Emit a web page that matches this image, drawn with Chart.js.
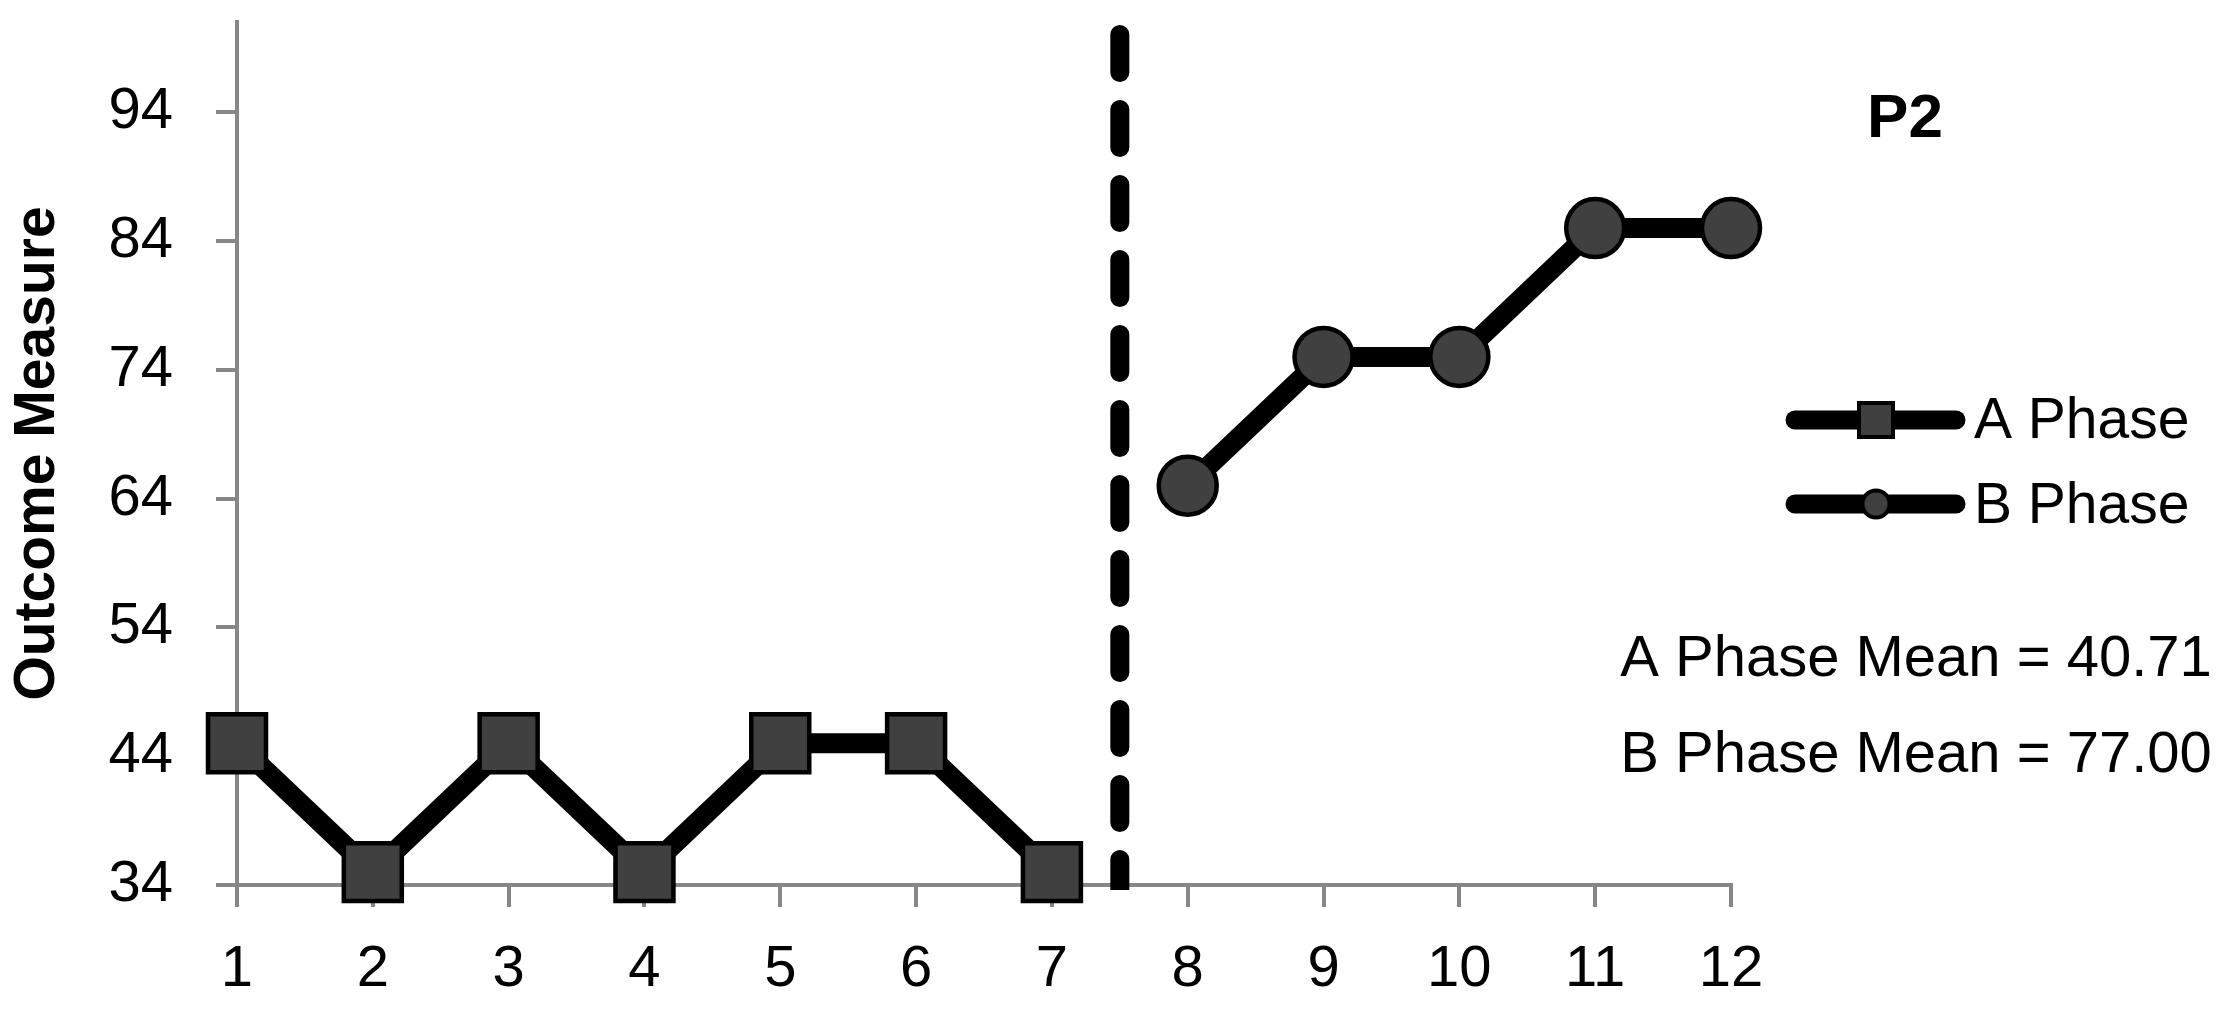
<!DOCTYPE html>
<html lang="en">
<head>
    <meta charset="UTF-8">
    <meta name="viewport" content="width=device-width, initial-scale=1.0">
    <title>P2 - Outcome Measure</title>
    <script src="https://cdn.jsdelivr.net/npm/chart.js@4.4.0/dist/chart.umd.min.js"></script>
    <style>
        html, body { margin: 0; padding: 0; background: #fff; }
        #wrap { position: relative; width: 2237px; height: 1018px; }
    </style>
</head>
<body>
    <div id="wrap">
        <canvas id="phase-chart"></canvas>
    </div>

    <script>
        // Data
        const sessions = ['1', '2', '3', '4', '5', '6', '7', '8', '9', '10', '11', '12'];
        const aPhase = [45, 35, 45, 35, 45, 45, 35, null, null, null, null, null];
        const bPhase = [null, null, null, null, null, null, null, 65, 75, 75, 85, 85];
        const yTicks = [34, 44, 54, 64, 74, 84, 94];
        const yMin = 34;
        const yMax = 101;
        const lastASession = '7';
        const participant = 'P2';

        const axisGray = '#878787';
        const markerFill = '#404040';
        const fontFamily = '"Liberation Sans", Arial, sans-serif';

        function mean(values) {
            const v = values.filter(x => x !== null);
            return v.reduce((a, b) => a + b, 0) / v.length;
        }

        // Phase change line, title, legend and means
        const extras = {
            id: 'extras',
            afterDatasetsDraw(chart) {
                const ctx = chart.ctx;
                const area = chart.chartArea;
                const x = chart.scales.x.getPixelForValue(sessions.indexOf(lastASession) + 0.5);
                ctx.save();
                ctx.beginPath();
                ctx.rect(0, 0, chart.width, area.bottom + 5);
                ctx.clip();
                ctx.strokeStyle = '#000';
                ctx.lineWidth = 19;
                ctx.lineCap = 'round';
                ctx.setLineDash([38, 37]);
                ctx.beginPath();
                ctx.moveTo(x, area.top + 12.5);
                ctx.lineTo(x, area.bottom + 40);
                ctx.stroke();
                ctx.restore();
            },
            afterDraw(chart) {
                const ctx = chart.ctx;
                ctx.save();
                ctx.fillStyle = '#000';

                // title
                ctx.font = 'bold 62px ' + fontFamily;
                ctx.textAlign = 'center';
                ctx.textBaseline = 'alphabetic';
                ctx.fillText(participant, 1905, 137);

                // legend
                const rows = [
                    { ds: chart.data.datasets[0], y: 420, base: 438 },
                    { ds: chart.data.datasets[1], y: 504, base: 523 }
                ];
                rows.forEach(r => {
                    ctx.strokeStyle = '#000';
                    ctx.lineWidth = 19;
                    ctx.lineCap = 'round';
                    ctx.beginPath();
                    ctx.moveTo(1795, r.y);
                    ctx.lineTo(1956, r.y);
                    ctx.stroke();
                    ctx.lineCap = 'butt';
                    ctx.lineWidth = 4;
                    ctx.fillStyle = markerFill;
                    ctx.beginPath();
                    if (r.ds.pointStyle === 'rect') {
                        ctx.rect(1876 - 17, r.y - 17, 34, 34);
                    } else {
                        ctx.arc(1876, r.y, 13.5, 0, Math.PI * 2);
                    }
                    ctx.fill();
                    ctx.stroke();
                    ctx.fillStyle = '#000';
                    ctx.font = '57px ' + fontFamily;
                    ctx.textAlign = 'left';
                    ctx.fillText(r.ds.label, 1974, r.base);
                });

                // phase means
                ctx.font = '58px ' + fontFamily;
                ctx.textAlign = 'center';
                ctx.fillText('A Phase Mean = ' + mean(aPhase).toFixed(2), 1916, 676);
                ctx.fillText('B Phase Mean = ' + mean(bPhase).toFixed(2), 1916, 772);
                ctx.restore();
            }
        };

        const ctx = document.getElementById('phase-chart').getContext('2d');
        const chart = new Chart(ctx, {
            type: 'line',
            data: {
                labels: sessions,
                datasets: [{
                    label: 'A Phase',
                    data: aPhase,
                    borderColor: '#000',
                    borderWidth: 20,
                    pointStyle: 'rect',
                    pointRadius: 41,
                    pointBackgroundColor: markerFill,
                    pointBorderColor: '#000',
                    pointBorderWidth: 4.5,
                    tension: 0,
                    clip: false
                }, {
                    label: 'B Phase',
                    data: bPhase,
                    borderColor: '#000',
                    borderWidth: 20,
                    pointStyle: 'circle',
                    pointRadius: 29,
                    pointBackgroundColor: markerFill,
                    pointBorderColor: '#000',
                    pointBorderWidth: 4.5,
                    tension: 0,
                    clip: false
                }]
            },
            options: {
                responsive: true,
                maintainAspectRatio: false,
                animation: false,
                events: [],
                layout: {
                    autoPadding: false,
                    padding: { left: 0, top: 22, right: 506, bottom: 0 }
                },
                plugins: {
                    legend: { display: false },
                    title: { display: false },
                    tooltip: { enabled: false }
                },
                scales: {
                    x: {
                        offset: false,
                        grid: {
                            drawOnChartArea: false,
                            drawTicks: true,
                            tickLength: 22,
                            color: axisGray,
                            lineWidth: 4
                        },
                        border: { color: axisGray, width: 4 },
                        ticks: {
                            color: '#000',
                            padding: 28,
                            maxRotation: 0,
                            autoSkip: false,
                            font: { family: fontFamily, size: 58 }
                        },
                        afterFit(scale) {
                            scale.height = 133;
                            scale.paddingLeft = 0;
                            scale.paddingRight = 0;
                        }
                    },
                    y: {
                        min: yMin,
                        max: yMax,
                        afterBuildTicks(scale) {
                            scale.ticks = yTicks.map(v => ({ value: v }));
                        },
                        grid: {
                            drawOnChartArea: false,
                            drawTicks: true,
                            tickLength: 21,
                            color: axisGray,
                            lineWidth: 4
                        },
                        border: { color: axisGray, width: 4 },
                        ticks: {
                            color: '#000',
                            padding: 43,
                            font: { family: fontFamily, size: 58 }
                        },
                        title: {
                            display: true,
                            text: 'Outcome Measure',
                            color: '#000',
                            padding: { top: 4, bottom: 0 },
                            font: { family: fontFamily, size: 57, weight: 'bold' }
                        },
                        afterFit(scale) {
                            scale.width = 237;
                            scale.paddingTop = 0;
                            scale.paddingBottom = 0;
                        }
                    }
                }
            },
            plugins: [extras]
        });
    </script>
</body>
</html>
